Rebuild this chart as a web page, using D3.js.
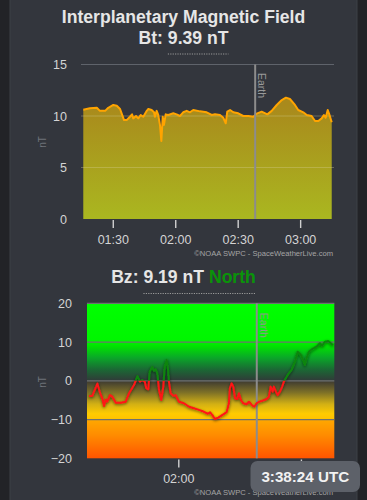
<!DOCTYPE html>
<html><head><meta charset="utf-8">
<script src="https://cdn.jsdelivr.net/npm/d3@7"></script>
<style>
body{margin:0;background:#222327;}
svg{display:block;}
text{font-family:"Liberation Sans",Arial,Helvetica,sans-serif;}
.tick text{font-family:"Liberation Sans Narrow","Arial Narrow","Liberation Sans",Arial,sans-serif;font-stretch:condensed;}
</style></head><body>
<svg id="c" width="367" height="500"></svg>
<script>
// ---------- DATA ----------
const btTimes = ["01:15:50","01:19:00","01:22:20","01:23:50","01:26:20","01:27:50","01:30:15","01:31:55","01:33:30","01:35:25","01:36:40","01:38:15","01:39:15","01:39:50","01:41:10","01:42:15","01:43:25","01:44:40","01:46:20","01:47:05","01:48:40","01:49:50","01:50:15","01:51:05","01:51:50","01:52:40","01:53:20","01:54:00","01:54:35","01:55:25","01:56:40","01:59:05","02:00:40","02:02:15","02:03:50","02:05:30","02:07:05","02:08:40","02:11:55","02:15:05","02:17:30","02:19:05","02:21:30","02:23:05","02:24:15","02:25:00","02:26:20","02:27:55","02:30:15","02:32:40","02:35:05","02:37:30","02:39:25","02:41:30","02:44:15","02:46:20","02:48:45","02:51:10","02:53:10","02:55:05","02:57:30","02:59:05","03:01:30","03:03:10","03:05:30","03:07:10","03:08:45","03:10:20","03:11:25","03:12:15","03:13:15","03:14:00","03:15:10"];
const btValues = [10.6,10.75,10.8,10.5,10.5,10.8,11.07,11.0,10.68,9.6,9.6,9.93,10.16,9.77,10.0,9.77,10.1,9.93,10.5,10.68,10.58,10.36,9.93,10.5,10.1,9.13,7.57,9.93,9.13,10.16,10.1,10.26,10.16,10.0,10.36,10.5,10.36,10.58,10.45,10.36,10.1,10.16,10.1,9.83,9.29,10.42,10.58,10.36,10.26,10.0,10.0,9.93,10.26,10.42,10.16,10.5,11.07,11.55,11.78,11.65,11.07,10.58,10.36,10.1,10.0,9.51,9.51,9.77,10.1,9.83,10.58,10.16,9.39];

const bzTimes = ["01:16:20","01:17:55","01:20:25","01:21:45","01:22:50","01:23:40","01:24:30","01:25:15","01:26:35","01:27:45","01:29:25","01:31:50","01:34:15","01:35:55","01:38:20","01:40:00","01:41:15","01:42:25","01:43:35","01:44:20","01:45:20","01:46:00","01:47:15","01:48:05","01:48:55","01:49:45","01:50:35","01:51:40","01:52:40","01:53:20","01:54:20","01:55:00","01:55:25","01:56:15","01:57:35","01:58:45","02:00:20","02:02:45","02:05:15","02:07:40","02:10:05","02:12:35","02:14:30","02:15:30","02:16:35","02:17:55","02:19:35","02:22:00","02:23:40","02:24:45","02:25:15","02:26:05","02:26:55","02:27:45","02:28:50","02:29:40","02:30:40","02:31:45","02:33:25","02:34:35","02:35:55","02:37:10","02:38:20","02:39:30","02:40:45","02:42:05","02:43:15","02:44:20","02:45:10","02:46:10","02:46:45","02:47:35","02:48:35","02:49:45","02:50:50","02:51:40","02:53:30","02:55:25","02:57:05","02:58:25","03:00:00","03:01:05","03:01:55","03:02:45","03:03:55","03:05:30","03:07:40","03:09:15","03:10:25","03:11:45","03:13:20","03:14:40","03:15:40"];
const bzValues = [-3.9,-3.9,-0.7,-3.2,-4.5,-6.5,-4.8,-5.4,-3.7,-4.1,-5.65,-5.65,-5.4,-3.2,-1.1,1.2,-0.2,0.2,-0.2,-1.9,-2.2,2.35,3.6,2.6,3.0,1.9,-2.4,-4.95,-1.5,3.6,5.4,2.8,-0.2,-3.2,-3.9,-3.7,-5.4,-5.8,-6.7,-7.1,-7.5,-8.0,-8.5,-8.1,-8.8,-9.86,-9.5,-8.65,-8.1,-5.8,-1.9,-0.65,-1.5,-4.5,-4.7,-3.2,-4.95,-5.8,-6.06,-5.4,-6.24,-6.7,-5.8,-5.4,-5.2,-4.95,-4.7,-4.1,-1.5,-2.8,-1.5,-2.6,-3.7,-2.8,-1.5,-0.2,1.5,2.8,4.9,7.5,6.66,5.4,4.1,5.8,7.5,8.2,8.8,9.7,9.06,10.1,10.27,9.7,9.19];

const btTickLabels = ["01:30","02:00","02:30","03:00"];
const bzTickLabels = ["02:00","03:00"];
const btYTicks = [0,5,10,15];
const bzYTicks = [-20,-10,0,10,20];
const earthTime = "02:38:24";
const btDomain = ["01:15:42","03:15:18"];
const bzDomain = ["01:15:20","03:16:20"];
const btNow = "9.39", bzNow = "9.19", bzDir = "North";
const clockText = "3:38:24 UTC";

// ---------- SETUP ----------
const parse = d3.timeParse("%H:%M:%S");
const parseHM = d3.timeParse("%H:%M");
const svg = d3.select("#c");
const defs = svg.append("defs");

svg.append("rect").attr("x",0).attr("y",0).attr("width",367).attr("height",500).attr("fill","#222327");
svg.append("rect").attr("x",10).attr("y",-2).attr("width",347).attr("height",504)
  .attr("fill","#33363d").attr("stroke","#3d4047").attr("stroke-width",1);

// ---------- TITLES ----------
function titleLine(y, parts, ulFrom){
  const t = svg.append("text").attr("x",183.5).attr("y",y).attr("text-anchor","middle")
    .attr("font-size",17.6).attr("font-weight","bold").attr("fill","#e6e6e6");
  parts.forEach(p=>t.append("tspan").text(p.t).attr("fill",p.c||"#e6e6e6"));
  const node = t.node();
  const total = node.getComputedTextLength();
  const pre = node.getSubStringLength(0, ulFrom);
  const x0 = 183.5 - total/2;
  svg.append("line").attr("x1",x0+pre).attr("x2",x0+total).attr("y1",y+10.5).attr("y2",y+10.5)
    .attr("stroke","#9a9a9a").attr("stroke-width",1).attr("stroke-dasharray","1.2,1.2");
}
svg.append("text").attr("x",183.5).attr("y",23).attr("text-anchor","middle")
  .attr("font-size",17.6).attr("font-weight","bold").attr("fill","#e6e6e6").text("Interplanetary Magnetic Field");
titleLine(43.5, [{t:"Bt: "},{t:btNow+" nT"}], 4);
titleLine(283, [{t:"Bz: "},{t:bzNow+" nT "},{t:bzDir,c:"#0a930a"}], 4);

// ---------- TOP CHART (Bt) ----------
const bt = btTimes.map((t,i)=>({t:parse(t),v:btValues[i]}));
const x1 = d3.scaleTime().domain(btDomain.map(parse)).range([83,332]);
const y1 = d3.scaleLinear().domain([0,15]).range([219,64.5]);

const g1 = defs.append("linearGradient").attr("id","btFill").attr("gradientUnits","userSpaceOnUse")
  .attr("x1",0).attr("x2",0).attr("y1",y1(11)).attr("y2",y1(0));
g1.append("stop").attr("offset",0).attr("stop-color","#a98a1c");
g1.append("stop").attr("offset",1).attr("stop-color","#aab720");

svg.append("line").attr("x1",81).attr("x2",334).attr("y1",y1(15)).attr("y2",y1(15))
  .attr("stroke","#5f636b").attr("stroke-width",1.2);

svg.append("path").datum(bt)
  .attr("d", d3.area().x(d=>x1(d.t)).y0(y1(0)).y1(d=>y1(d.v)))
  .attr("fill","url(#btFill)");

[5,10].forEach(v=>{
  svg.append("line").attr("x1",81).attr("x2",334).attr("y1",y1(v)).attr("y2",y1(v))
    .attr("stroke","rgba(215,205,150,0.35)").attr("stroke-width",1);
});

svg.append("path").datum(bt)
  .attr("d", d3.line().x(d=>x1(d.t)).y(d=>y1(d.v)))
  .attr("fill","none").attr("stroke","#ffa400").attr("stroke-width",2).attr("stroke-linejoin","round");

// Earth line top
const ex1 = x1(parse(earthTime));
svg.append("line").attr("x1",ex1).attr("x2",ex1).attr("y1",y1(15)).attr("y2",y1(0))
  .attr("stroke","#8c8c8c").attr("stroke-width",2);
svg.append("text").attr("transform",`translate(${ex1+3},${y1(15)+8.5}) rotate(90)`)
  .attr("font-size",10.5).attr("fill","#9a9a9a").text("Earth");

// axes top
const ax1 = svg.append("g").attr("transform","translate(0,220)")
  .call(d3.axisBottom(x1).tickValues(btTickLabels.map(s=>{const d=parseHM(s);return d;})).tickFormat(d3.timeFormat("%H:%M")).tickSize(8).tickPadding(7));
ax1.select(".domain").remove();
ax1.selectAll(".tick line").attr("stroke","#d0d0d0").attr("stroke-width",1.4);
ax1.selectAll(".tick text").attr("fill","#d4d4d4").attr("font-size",12.5);

const ay1 = svg.append("g").attr("transform","translate(67,0)")
  .call(d3.axisLeft(y1).tickValues(btYTicks).tickSize(0).tickPadding(0));
ay1.select(".domain").remove();
ay1.selectAll(".tick text").attr("fill","#d4d4d4").attr("font-size",12.5);

svg.append("text").attr("transform","translate(46,142) rotate(-90)").attr("text-anchor","middle")
  .attr("font-size",10).attr("fill","#6f737a").text("nT");

svg.append("text").attr("x",333).attr("y",256).attr("text-anchor","end")
  .attr("font-size",7.6).attr("fill","#a5a5a5").text("©NOAA SWPC - SpaceWeatherLive.com");

// ---------- BOTTOM CHART (Bz) ----------
const bz = bzTimes.map((t,i)=>({t:parse(t),v:bzValues[i]}));
const x2 = d3.scaleTime().domain(bzDomain.map(parse)).range([87,334.3]);
const y2 = d3.scaleLinear().domain([-20,20]).range([458.3,303.3]);

const g2 = defs.append("linearGradient").attr("id","bzBg").attr("gradientUnits","userSpaceOnUse")
  .attr("x1",0).attr("x2",0).attr("y1",y2(20)).attr("y2",y2(-20));
const off = v => (20-v)/40;
[[20,"#00ff00"],[10.2,"#00f600"],[9,"#00e400"],[6,"#0aa828"],[3,"#1a6a34"],[0.3,"#2e3f38"],
 [0,"#3a3c38"],[-0.3,"#433f30"],[-3,"#7d7027"],[-6,"#d2b014"],[-8.5,"#ffcb00"],[-9.9,"#ffc200"],
 [-10,"#ffa800"],[-14,"#ff8c00"],[-20,"#ff5400"]].forEach(s=>{
  g2.append("stop").attr("offset",off(s[0])).attr("stop-color",s[1]);
});
svg.append("rect").attr("x",87).attr("y",y2(20)).attr("width",334.3-87).attr("height",y2(-20)-y2(20))
  .attr("fill","url(#bzBg)");

bzYTicks.filter(v=>v>-20).forEach(v=>{
  svg.append("line").attr("x1",87).attr("x2",334.3).attr("y1",y2(v)).attr("y2",y2(v))
    .attr("stroke","#6e7070").attr("stroke-width",1.3);
});

const ex2 = x2(parse(earthTime));
svg.append("line").attr("x1",ex2).attr("x2",ex2).attr("y1",y2(20)).attr("y2",y2(-20))
  .attr("stroke","#8c8c8c").attr("stroke-width",2);
svg.append("text").attr("transform",`translate(${ex2+3},${y2(20)+9.5}) rotate(90)`)
  .attr("font-size",10.5).attr("fill","#8a9a8a").text("Earth");

const sh = defs.append("filter").attr("id","shadow").attr("x","-10%").attr("y","-30%").attr("width","120%").attr("height","160%");
sh.append("feDropShadow").attr("dx",0).attr("dy",1).attr("stdDeviation",1.6)
  .attr("flood-color","#000").attr("flood-opacity",0.6);

defs.append("clipPath").attr("id","clipPos").append("rect")
  .attr("x",80).attr("y",y2(20)-5).attr("width",260).attr("height",y2(0)-y2(20)+5);
defs.append("clipPath").attr("id","clipNeg").append("rect")
  .attr("x",80).attr("y",y2(0)).attr("width",260).attr("height",y2(-20)-y2(0)+5);

const bzLine = d3.line().x(d=>x2(d.t)).y(d=>y2(d.v));
const lg = svg.append("g").attr("filter","url(#shadow)");
lg.append("path").datum(bz).attr("d",bzLine).attr("clip-path","url(#clipPos)")
  .attr("fill","none").attr("stroke","#0f850f").attr("stroke-width",2).attr("stroke-linejoin","round");
lg.append("path").datum(bz).attr("d",bzLine).attr("clip-path","url(#clipNeg)")
  .attr("fill","none").attr("stroke","#ff1414").attr("stroke-width",2).attr("stroke-linejoin","round");

const ax2 = svg.append("g").attr("transform","translate(0,459.5)")
  .call(d3.axisBottom(x2).tickValues(bzTickLabels.map(s=>parseHM(s))).tickFormat(d3.timeFormat("%H:%M")).tickSize(8).tickPadding(7));
ax2.select(".domain").remove();
ax2.selectAll(".tick line").attr("stroke","#d0d0d0").attr("stroke-width",1.4);
ax2.selectAll(".tick text").attr("fill","#d4d4d4").attr("font-size",12.5);

const ay2 = svg.append("g").attr("transform","translate(72,0)")
  .call(d3.axisLeft(y2).tickValues(bzYTicks).tickSize(0).tickPadding(0));
ay2.select(".domain").remove();
ay2.selectAll(".tick text").attr("fill","#d4d4d4").attr("font-size",12.5);

svg.append("text").attr("transform","translate(46,382) rotate(-90)").attr("text-anchor","middle")
  .attr("font-size",10).attr("fill","#6f737a").text("nT");

svg.append("text").attr("x",333).attr("y",495).attr("text-anchor","end")
  .attr("font-size",7.6).attr("fill","#a5a5a5").text("©NOAA SWPC - SpaceWeatherLive.com");

// ---------- CLOCK BADGE ----------
svg.append("rect").attr("x",250.5).attr("y",461).attr("width",109.5).attr("height",31).attr("rx",7)
  .attr("fill","#5d6169");
svg.append("text").attr("x",305.3).attr("y",482.2).attr("text-anchor","middle")
  .attr("font-size",15.2).attr("font-weight","bold").attr("fill","#f2f2f2").text(clockText);
</script>
</body></html>
